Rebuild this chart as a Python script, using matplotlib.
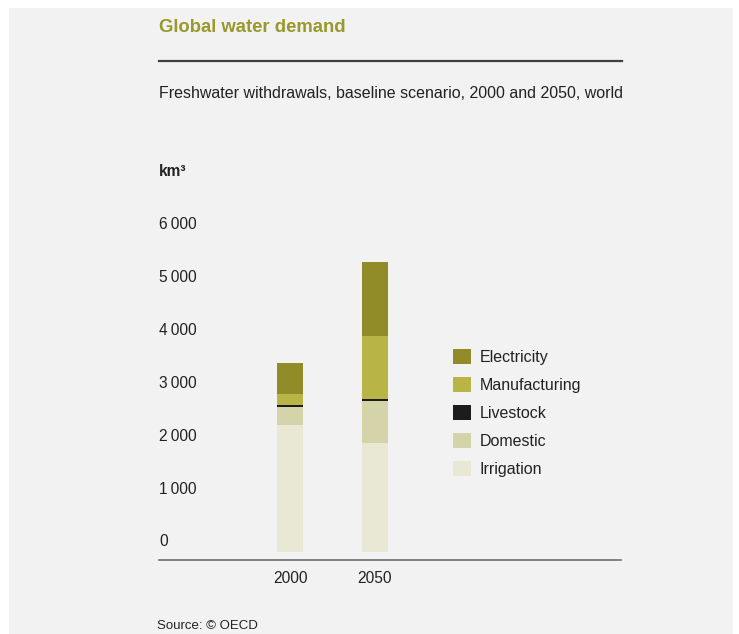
import matplotlib.pyplot as plt
import matplotlib.transforms as mtransforms
from matplotlib.patches import Rectangle, Patch

plt.rcParams['font.family'] = ['Liberation Sans', 'DejaVu Sans']

# data (km3)
years = ['2000', '2050']
irrigation = [2400, 2065]
domestic = [335, 785]
livestock = [40, 50]
manufacturing = [220, 1190]
electricity = [570, 1390]
series = ['Irrigation', 'Domestic', 'Livestock', 'Manufacturing', 'Electricity']
values = [irrigation, domestic, livestock, manufacturing, electricity]
colors = ['#e8e8d4', '#d4d3a9', '#1c1c1c', '#b8b446', '#918c27']
yticks = [0, 1000, 2000, 3000, 4000, 5000, 6000]
ytick_labels = ['0', '1\u2009000', '2\u2009000', '3\u2009000', '4\u2009000', '5\u2009000', '6\u2009000']

W, H = 739, 634
fig = plt.figure(figsize=(W / 100, H / 100), dpi=100, facecolor='white')
bg = '#f2f2f2'
fig.patches.append(Rectangle((9 / W, 0), (733 - 9) / W, (H - 8) / H,
                             transform=fig.transFigure, facecolor=bg, edgecolor='none', zorder=-1))

def fx(px):
    return px / W

def fy(py):
    return 1 - py / H

# axes in pixel layout
left, right, bottom, top = 159, 621, 560.3, 200
ax = fig.add_axes([fx(left), fy(bottom), (right - left) / W, (bottom - top) / H])
ax.set_facecolor('none')
ppu = 52.9 / 1000
ax.set_ylim(-(bottom - 552) / ppu, (552 - top) / ppu)
x = [0, 1]
ax.set_xlim(-(290 - left) / 85, 1 + (right - 375) / 85)

base = [0, 0]
for name, vals, c in zip(series, values, colors):
    ax.bar(x, vals, bottom=base, width=0.3, color=c, edgecolor='none', label=name)
    base = [b + v for b, v in zip(base, vals)]

for s in ['top', 'right', 'left']:
    ax.spines[s].set_visible(False)
ax.spines['bottom'].set_color('#6e6e6e')
ax.spines['bottom'].set_linewidth(1.2)
ax.set_yticks([])
ax.set_xticks(x)
ax.set_xticklabels(years, fontsize=11.2, color='#222222')
ax.tick_params(axis='x', length=0, pad=8)

trans = mtransforms.blended_transform_factory(ax.transAxes, ax.transData)
trans = mtransforms.offset_copy(trans, fig=fig, y=7.2, units='points')
for v, lab in zip(yticks, ytick_labels):
    ax.text(0, v, lab, transform=trans, ha='left', va='center', fontsize=11.2, color='#222222')

handles = [Patch(facecolor=c, edgecolor='none') for c in colors][::-1]
fig.legend(handles, series[::-1], loc='upper left', bbox_to_anchor=(fx(452.7), fy(348.5)),
           frameon=False, fontsize=11.5, borderpad=0, borderaxespad=0,
           handlelength=1.13, handleheight=1.13, labelspacing=0.74, handletextpad=0.55,
           labelcolor='#222222')

fig.text(fx(159), fy(27.5), 'Global water demand', fontsize=13.3, fontweight='bold',
         color='#99992c', ha='left', va='center')
fig.add_artist(plt.Line2D([fx(159), fx(621.5)], [fy(60.5), fy(60.5)], color='#404040', linewidth=1.6))
fig.text(fx(159), fy(93.5), 'Freshwater withdrawals, baseline scenario, 2000 and 2050, world',
         fontsize=11.5, color='#222222', ha='left', va='center')
fig.text(fx(159), fy(171), 'km³', fontsize=11.2, fontweight='bold', color='#222222',
         ha='left', va='center')
fig.text(fx(157), fy(626), 'Source: © OECD', fontsize=9.5, color='#222222', ha='left', va='center')

fig.savefig('out.png', dpi=100, facecolor=fig.get_facecolor())
